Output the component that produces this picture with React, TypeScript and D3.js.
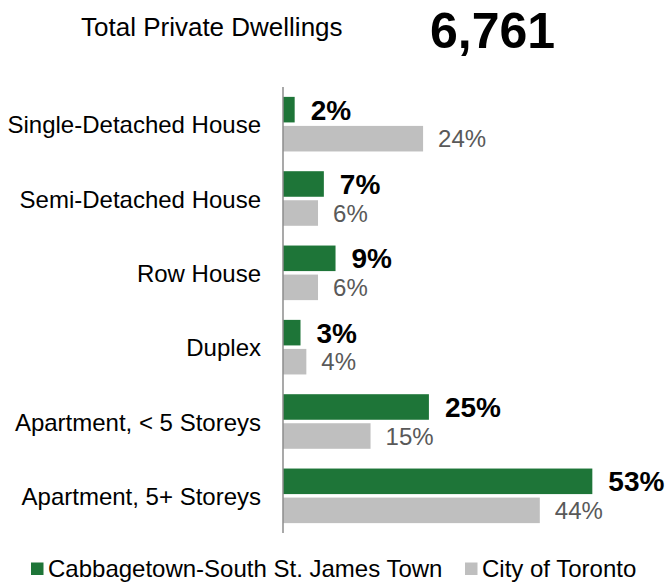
import React from "react";
import * as d3 from "d3";

const categories = [
  "Single-Detached House",
  "Semi-Detached House",
  "Row House",
  "Duplex",
  "Apartment, < 5 Storeys",
  "Apartment, 5+ Storeys",
];
const neighbourhoodValues = [2, 7, 9, 3, 25, 53];
const torontoValues = [24, 6, 6, 4, 15, 44];
const seriesNames = ["Cabbagetown-South St. James Town", "City of Toronto"];
const titleLabel = "Total Private Dwellings";
const totalValue = 6761;

const GREEN = "#1E7538";
const GRAY = "#BFBFBF";
const FONT = "'Liberation Sans', Arial, Helvetica, sans-serif";

export default function App() {
  const W = 665;
  const H = 583;
  const x = d3.scaleLinear().domain([0, 55]).range([283, 604]);
  const y = d3.scaleBand<string>().domain(categories).range([87, 533]);
  const inner = d3
    .scaleBand<string>()
    .domain(["a", "b"])
    .range([0, y.bandwidth()])
    .paddingInner(0.12)
    .paddingOuter(0.34);
  const bw = inner.bandwidth();

  return (
    <svg
      width={W}
      height={H}
      style={{ position: "absolute", left: 0, top: 0, background: "#fff" }}
      fontFamily={FONT}
    >
      <text x={81} y={36} fontSize={26} fill="#000">
        {titleLabel}
      </text>
      <text x={430} y={48} fontSize={50} fontWeight="bold" fill="#000">
        {d3.format(",")(totalValue)}
      </text>

      {categories.map((c, i) => {
        const y0 = y(c)!;
        const gy = y0 + inner("a")!;
        const ty = y0 + inner("b")!;
        return (
          <g key={c}>
            <text
              x={261}
              y={y0 + y.bandwidth() / 2}
              dy="0.38em"
              textAnchor="end"
              fontSize={24}
              fill="#000"
            >
              {c}
            </text>
            <rect x={x(0)} y={gy} width={x(neighbourhoodValues[i]) - x(0)} height={bw} fill={GREEN} />
            <rect x={x(0)} y={ty} width={x(torontoValues[i]) - x(0)} height={bw} fill={GRAY} />
            <text
              x={x(neighbourhoodValues[i]) + 16}
              y={gy + bw / 2}
              dy="0.36em"
              fontSize={28}
              fontWeight="bold"
              fill="#000"
            >
              {neighbourhoodValues[i]}%
            </text>
            <text
              x={x(torontoValues[i]) + 15}
              y={ty + bw / 2}
              dy="0.36em"
              fontSize={24}
              fill="#595959"
            >
              {torontoValues[i]}%
            </text>
          </g>
        );
      })}

      <line x1={x(0)} x2={x(0)} y1={87} y2={533} stroke="#8C8C8C" strokeWidth={1.5} />

      <g>
        <rect x={31} y={562.5} width={12.5} height={12.5} fill={GREEN} />
        <text x={48} y={577} fontSize={24} fill="#000">
          {seriesNames[0]}
        </text>
        <rect x={465} y={562.5} width={12.5} height={12.5} fill={GRAY} />
        <text x={482} y={577} fontSize={24} fill="#000">
          {seriesNames[1]}
        </text>
      </g>
    </svg>
  );
}
